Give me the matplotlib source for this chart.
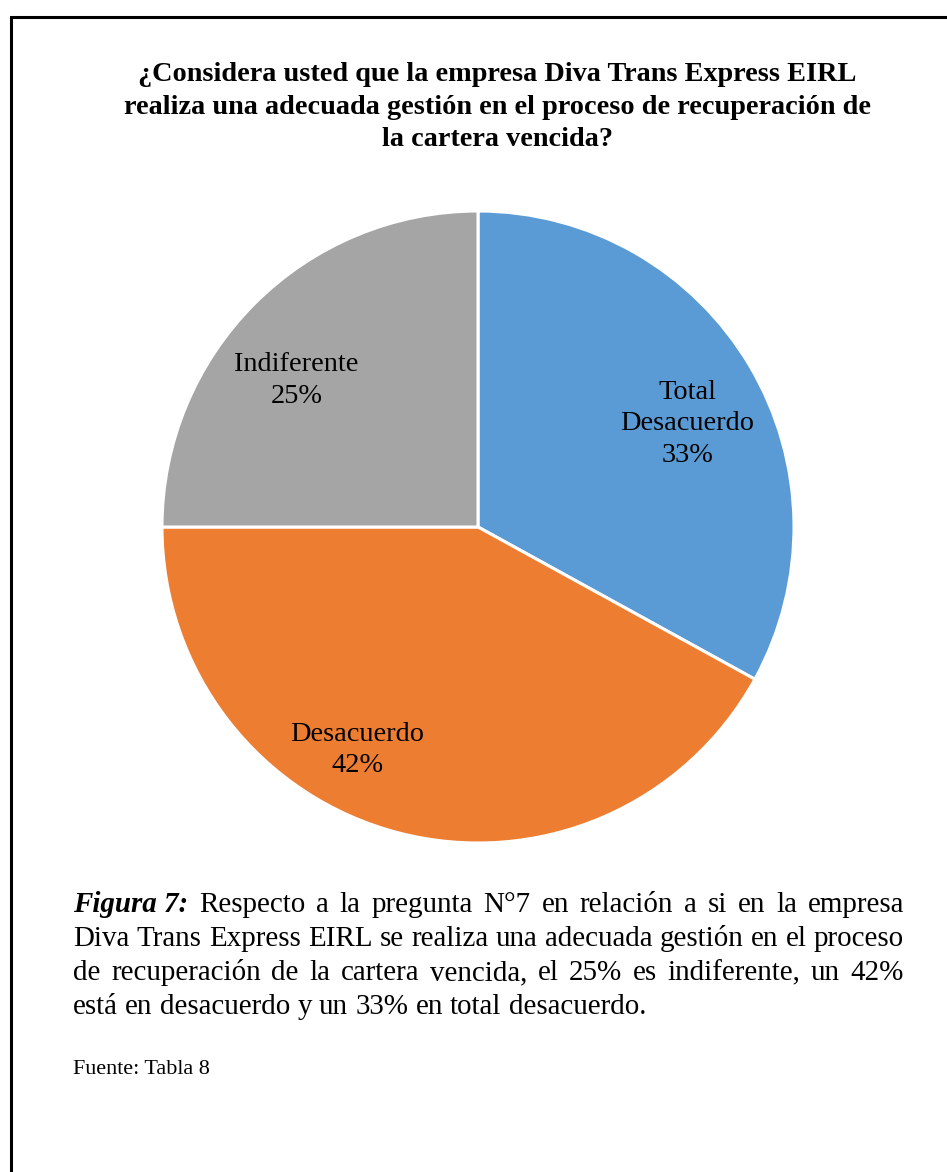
import matplotlib
matplotlib.use("Agg")
import matplotlib.pyplot as plt
from matplotlib.patches import Rectangle

# data
categories = ["Total\nDesacuerdo", "Desacuerdo", "Indiferente"]
percentages = [33, 42, 25]
colors = ["#5B9BD5", "#ED7D31", "#A5A5A5"]

title = ("¿Considera usted que la empresa Diva Trans Express EIRL\n"
         "realiza una adecuada gestión en el proceso de recuperación de\n"
         "la cartera vencida?")

caption_lines = [
    [("Figura 7:", "bi"), ("Respecto", "r"), ("a", "r"), ("la", "r"), ("pregunta", "r"),
     ("N°7", "r"), ("en", "r"), ("relación", "r"), ("a", "r"), ("si", "r"), ("en", "r"),
     ("la", "r"), ("empresa", "r")],
    "Diva Trans Express EIRL se realiza una adecuada gestión en el proceso",
    "de recuperación de la cartera vencida, el 25% es indiferente, un 42%",
    "está en desacuerdo y un 33% en total desacuerdo.",
]
source = "Fuente: Tabla 8"

W, H = 947, 1172
plt.rcParams["font.family"] = ["Liberation Serif", "DejaVu Serif"]
fig = plt.figure(figsize=(W / 100, H / 100), dpi=100)

# frame around the figure (only left and top visible)
fig.patches.append(Rectangle((11 / W, -0.1), 1.2, 1 - 17 / H + 0.1,
                             transform=fig.transFigure, fill=False,
                             edgecolor="black", linewidth=2.2))

fig.text(497 / W, 1 - 107 / H, title, ha="center", va="center",
         fontsize=20.3, fontweight="bold", linespacing=1.42)

# pie
cx, cy, rad = 478, 527, 316
ax = fig.add_axes([(cx - rad) / W, 1 - (cy + rad) / H, 2 * rad / W, 2 * rad / H])
wedges, texts = ax.pie(percentages, colors=colors, startangle=90, counterclock=False,
                       labels=[f"{c}\n{p}%" for c, p in zip(categories, percentages)],
                       labeldistance=0.77,
                       wedgeprops=dict(edgecolor="white", linewidth=2.2),
                       textprops=dict(fontsize=20.4, ha="center", va="center",
                                      linespacing=1.35))
nudges = {"Total\nDesacuerdo": (0.0, -0.066), "Desacuerdo": (-0.19, 0.04),
          "Indiferente": (-0.03, -0.08)}
for t, c in zip(texts, categories):
    x, y = t.get_position()
    dx, dy = nudges[c]
    t.set_position((x + dx, y + dy))
    t.set_ha("center")
ax.set_xlim(-1, 1)
ax.set_ylim(-1, 1)
ax.set_aspect("equal")

# justified caption
fig.canvas.draw()
rend = fig.canvas.get_renderer()
cap_size = 20.9
styles = {"r": dict(), "bi": dict(fontweight="bold", fontstyle="italic")}


def width_of(s, st):
    t = fig.text(0, 0, s, fontsize=cap_size, **styles[st])
    w = t.get_window_extent(rend).width
    t.remove()
    return w


left, right = 73, 904
space_w = width_of("a b", "r") - width_of("ab", "r")
baselines = [912, 946, 980, 1014]
for i, line in enumerate(caption_lines):
    if isinstance(line, str):
        words = [(w, "r") for w in line.split()]
    else:
        words = line
    widths = [width_of(w, st) for w, st in words]
    last = i == len(caption_lines) - 1
    gap = space_w if last else (right - left - sum(widths)) / (len(words) - 1)
    x = left
    for (w, st), ww in zip(words, widths):
        fig.text(x / W, 1 - baselines[i] / H, w, fontsize=cap_size, va="baseline",
                 **styles[st])
        x += ww + gap

fig.text(left / W, 1 - 1074 / H, source, fontsize=15.9, va="baseline")

fig.savefig("out.png", dpi=100)
